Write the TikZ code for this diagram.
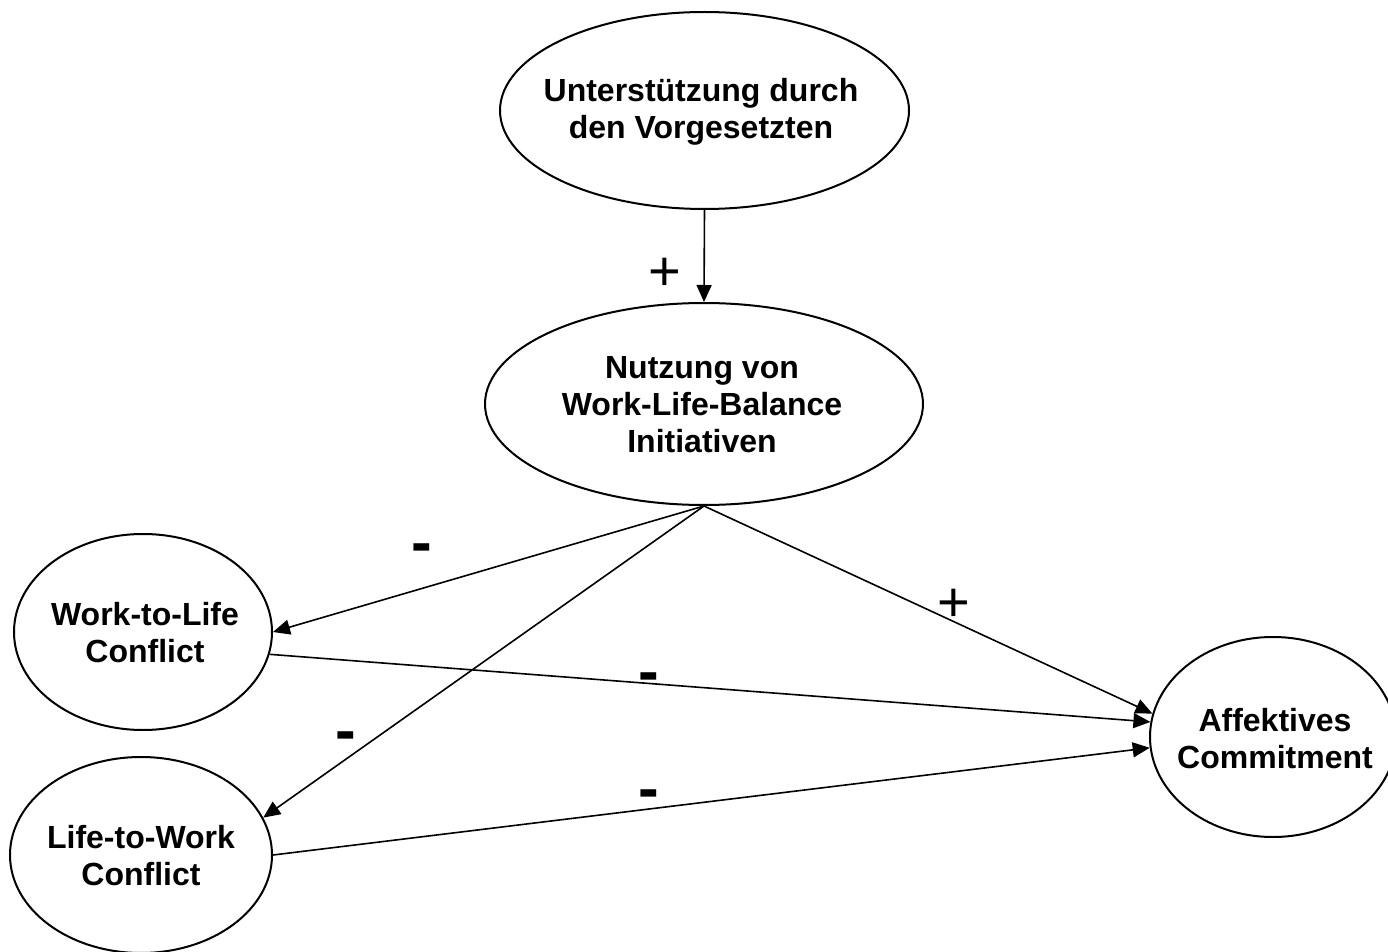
\documentclass[tikz,border=0pt]{standalone}
\usepackage{fontspec}
\setmainfont{Liberation Sans}
\usetikzlibrary{shapes.geometric,arrows.meta}
\tikzset{
  ell/.style={draw, ellipse, line width=1pt, inner sep=0pt},
  lbl/.style={font=\bfseries\fontsize{16}{18.5}\selectfont, align=center, inner sep=0pt},
  conn/.style={line width=0.8pt, -{Triangle[length=8.5pt,width=7.5pt]}},
  minus/.style={font=\bfseries\fontsize{31}{31}\selectfont, inner sep=0pt},
  plus/.style={font=\fontsize{28}{28}\selectfont, inner sep=0pt}
}
\begin{document}
\begin{tikzpicture}[x=0.5pt,y=-0.5pt]
\useasboundingbox (0,0) rectangle (1388,952);
\node[ell, minimum width=204.5pt, minimum height=98.5pt] (top) at (704.5,110.5) {};
\node[lbl] (topt) at (701,112) {Unterstützung durch\\den Vorgesetzten};
\node[ell, minimum width=219pt, minimum height=101pt] (mid) at (704,404) {};
\node[lbl] (midt) at (702,405) {Nutzung von\\Work-Life-Balance\\Initiativen};
\node[ell, minimum width=129pt, minimum height=98pt] (wtl) at (143,632) {};
\node[lbl] (wtlt) at (145,633) {Work-to-Life\\Conflict};
\node[ell, minimum width=131pt, minimum height=98pt] (ltw) at (141,855) {};
\node[lbl] (ltwt) at (141,856) {Life-to-Work\\Conflict};
\node[ell, minimum width=123pt, minimum height=100pt] (aff) at (1273,737) {};
\node[lbl] (afft) at (1275,739) {Affektives\\Commitment};

\draw[conn] (top.south) -- (mid.north);
\draw[conn] (mid.south) -- (wtl.east);
\draw[conn] (mid.south) -- (ltw.17.5);
\draw[conn] (mid.south) -- (aff.169);
\draw[conn] (wtl.-10) -- (aff.173.5);
\draw[conn] (ltw.east) -- (aff.185);

\node[plus] (p1) at (665,274) {+};
\node[plus] (p2) at (954,605) {+};
\node[minus] (m1) at (422,554) {-};
\node[minus] (m2) at (346,742) {-};
\node[minus] (m3) at (649,683) {-};
\node[minus] (m4) at (649,800) {-};
\end{tikzpicture}
\end{document}
